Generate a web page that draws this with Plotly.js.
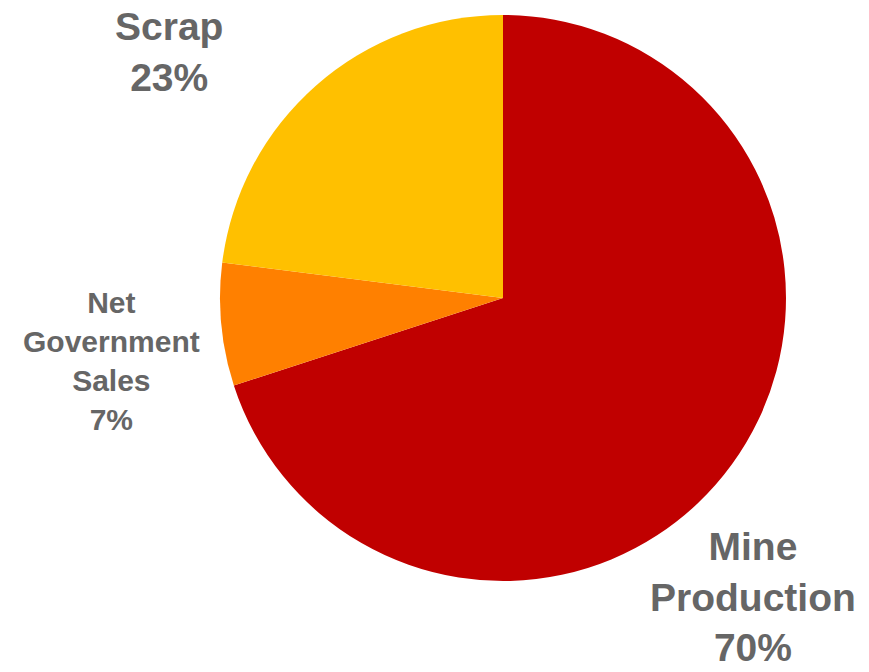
<!DOCTYPE html>
<html>
<head>
<meta charset="utf-8">
<script src="https://cdn.plot.ly/plotly-3.0.1.min.js"></script>
<style>html,body{margin:0;padding:0;background:#fff;}#chart{width:869px;height:672px;}</style>
</head>
<body>
<div id="chart"></div>
<script>
var labels = ["Mine<br>Production", "Net<br>Government<br>Sales", "Scrap"];
var values = [70, 7, 23];
var colors = ["#C00000", "#FF8000", "#FFC000"];

// label placement (style only): x, y (px), font size
var labelPos = [[753, 597, 39], [111, 361, 30], [169, 52, 39]];

var W = 869, H = 672;
var annotations = labels.map(function (l, i) {
  return {
    xref: "paper", yref: "paper",
    x: labelPos[i][0] / W, y: 1 - labelPos[i][1] / H,
    xanchor: "center", yanchor: "middle",
    text: "<b>" + l + "<br>" + values[i] + "%</b>",
    showarrow: false,
    align: "center",
    font: {family: "Liberation Sans, Arial, sans-serif", size: labelPos[i][2], color: "#666666"}
  };
});

var cx = 503, cy = 298, r = 283;
var data = [{
  type: "pie",
  labels: labels,
  values: values,
  sort: false,
  direction: "clockwise",
  rotation: 0,
  marker: {colors: colors, line: {width: 0}},
  textinfo: "none",
  hoverinfo: "none",
  domain: {x: [(cx - r) / W, (cx + r) / W], y: [1 - (cy + r) / H, 1 - (cy - r) / H]}
}];

var layout = {
  width: W, height: H,
  margin: {l: 0, r: 0, t: 0, b: 0},
  showlegend: false,
  paper_bgcolor: "#ffffff",
  annotations: annotations
};

Plotly.newPlot("chart", data, layout, {displayModeBar: false, staticPlot: true});
</script>
</body>
</html>
